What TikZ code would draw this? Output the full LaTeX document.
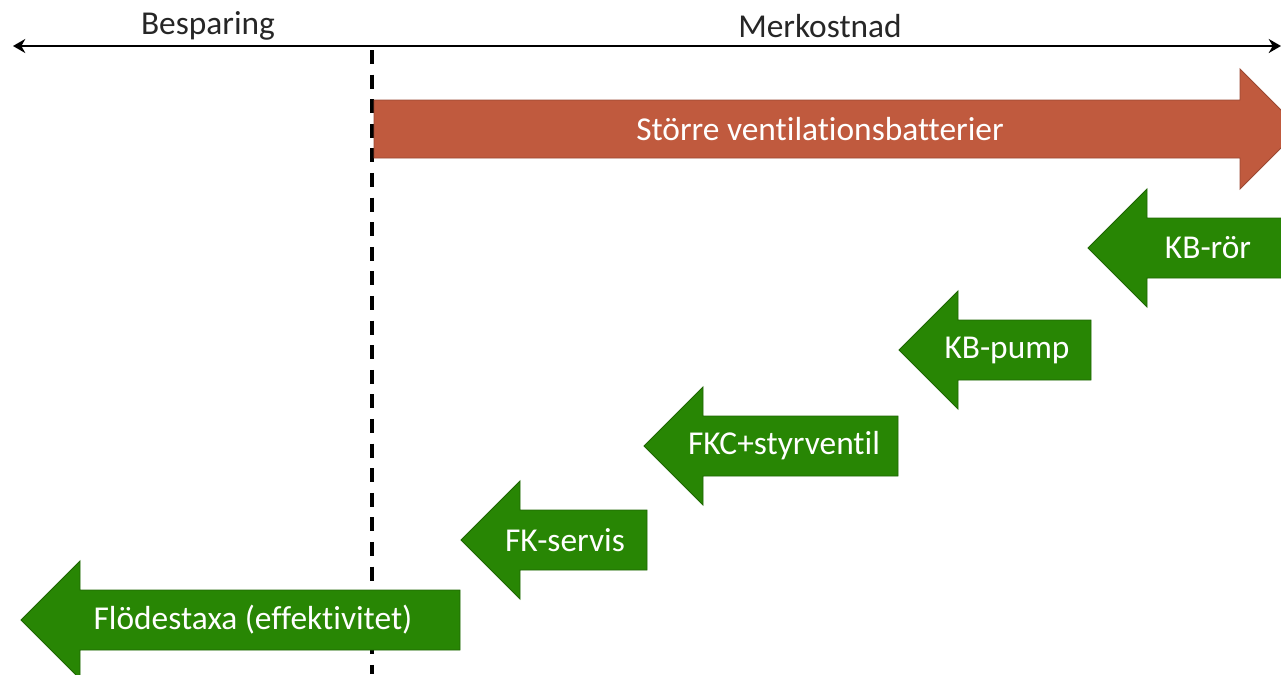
\documentclass[tikz,border=0pt]{standalone}
\usepackage{fontspec}
\setmainfont[Ligatures={NoCommon,NoDiscretionary,NoContextual}]{Carlito}
\usetikzlibrary{arrows.meta}
\definecolor{gaingreen}{RGB}{40,134,4}
\definecolor{costred}{RGB}{192,90,62}
\tikzset{gain/.style={fill=gaingreen,draw=gaingreen!75!black,line width=0.5pt}}
\tikzset{cost/.style={fill=costred,draw=costred!80!black,line width=0.5pt}}
\tikzset{lbl/.style={text=white,font=\fontsize{19}{23}\selectfont,inner sep=0pt}}
\tikzset{side/.style={text=black!85,font=\fontsize{19}{23}\selectfont,inner sep=0pt}}
\tikzset{axis/.style={line width=1.2pt,{Stealth[length=7pt,width=8pt]}-{Stealth[length=7pt,width=8pt]}}}
\tikzset{split/.style={line width=1.8pt,dash pattern=on 8pt off 6pt}}
% left block arrow: tip x, middle y, tail x
\newcommand{\leftblock}[3]{%
  \path[gain] (#1,#2) -- ++(59,-59) -- ++(0,29) -- (#3,#2-30)
    -- (#3,#2+30) -- (#1+59,#2+30) -- ++(0,29) -- cycle;}

\begin{document}
\begin{tikzpicture}[x=0.02cm,y=-0.02cm]
  \useasboundingbox (0,0) rectangle (1281,674);
  \clip (0,0) rectangle (1281,674);

  % axis
  \coordinate (axl) at (13,46);
  \coordinate (axr) at (1281,46);
  \draw[axis] (axl) -- (axr);
  \node[side] (besp) at (208,26) {Besparing};
  \node[side] (merk) at (820,26) {Merkostnad};

  % split line (behind the arrows)
  \coordinate (dtop) at (372,50);
  \coordinate (dbot) at (372,674);
  \draw[split] (dtop) -- (dbot);

  % cost arrow
  \path[cost] (374,100) -- (1240,100) -- (1240,69) -- (1300,129)
    -- (1240,189) -- (1240,158) -- (374,158) -- cycle;
  \node[lbl] (vent) at (820,129) {Större ventilationsbatterier};

  % gain arrows
  \leftblock{1088}{248}{1300}
  \leftblock{899}{350}{1091}
  \leftblock{644}{446}{898}
  \leftblock{461}{540}{647}
  \leftblock{21}{620}{460}

  \node[lbl] (kbror)  at (1208,248) {KB-rör};
  \node[lbl] (kbpump) at (1007,350) {KB-pump};
  \node[lbl] (fkc)    at (784,446)  {FKC+styrventil};
  \node[lbl] (fkserv) at (565,540)  {FK-servis};
  \node[lbl] (flode)  at (253,620)  {Flödestaxa (effektivitet)};
\end{tikzpicture}
\end{document}
